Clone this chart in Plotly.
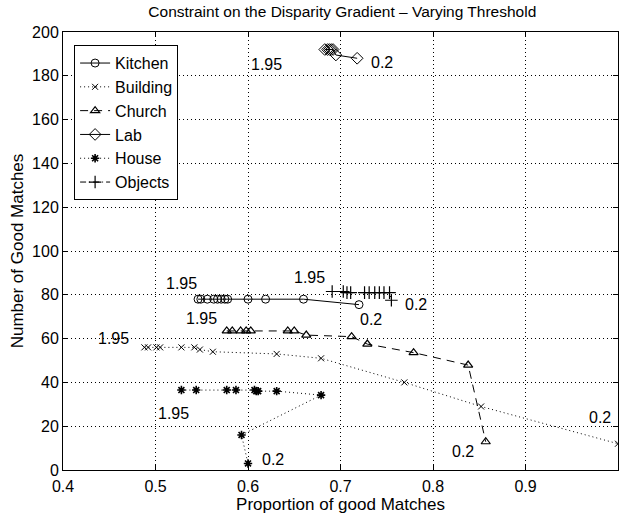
import plotly.graph_objects as go

# ---- data ----
kitchen_x = [0.546, 0.549, 0.556, 0.563, 0.567, 0.571, 0.575, 0.578, 0.600, 0.619, 0.660, 0.720]
kitchen_y = [78, 78, 78, 78, 78, 78, 78, 78, 78, 78, 78, 75.5]

building_x = [0.488, 0.492, 0.501, 0.505, 0.528, 0.542, 0.548, 0.562, 0.631, 0.679, 0.769, 0.852, 1.0]
building_y = [56, 56, 56, 56, 56, 56, 55, 54, 53, 51, 40, 29, 12]

church_x = [0.577, 0.583, 0.592, 0.598, 0.603, 0.643, 0.650, 0.663, 0.712, 0.729, 0.779, 0.838, 0.857]
church_y = [63.5, 63.5, 63.5, 63.5, 63.5, 63.5, 63.5, 61.6, 60.9, 57.5, 53.6, 47.9, 12.9]

lab_x = [0.683, 0.686, 0.688, 0.690, 0.692, 0.695, 0.718]
lab_y = [192, 192, 192, 192, 192, 189.5, 188]

house_x = [0.528, 0.544, 0.577, 0.587, 0.607, 0.609, 0.611, 0.631, 0.679, 0.593, 0.600]
house_y = [36.5, 36.5, 36.5, 36.5, 36.5, 36, 36, 36, 34.2, 16, 3]

objects_x = [0.691, 0.703, 0.707, 0.711, 0.726, 0.731, 0.737, 0.742, 0.747, 0.753, 0.755]
objects_y = [81.5, 81.5, 81, 81, 81, 81, 81, 81, 81, 81, 77.5]

label_text = ["1.95", "0.2", "1.95", "0.2", "1.95", "0.2",
              "1.95", "0.2", "1.95", "0.2", "1.95", "0.2"]
label_x = [0.528, 0.733, 0.550, 0.832, 0.666, 0.782, 0.455, 0.981, 0.519, 0.627, 0.620, 0.745]
label_y = [85, 68.5, 69, 8.5, 88, 75.5, 60, 24, 26, 5, 185, 186]

x_ticks = [0.4, 0.5, 0.6, 0.7, 0.8, 0.9, 1.0]
x_tick_text = ["0.4", "0.5", "0.6", "0.7", "0.8", "0.9", "1"]
y_ticks = [0, 20, 40, 60, 80, 100, 120, 140, 160, 180, 200]

FONT = "Liberation Sans, Arial, Helvetica, sans-serif"
DOT = "1px,3px"

series = [
    ("Kitchen", kitchen_x, kitchen_y, "circle-open", 8, "solid", 1),
    ("Building", building_x, building_y, "x-thin-open", 6, DOT, 1),
    ("Church", church_x, church_y, "triangle-up-open", 8, "8px,6px", 1.2),
    ("Lab", lab_x, lab_y, "diamond-open", 9, "solid", 1),
    ("House", house_x, house_y, "asterisk-open", 7, DOT, 1.6),
    ("Objects", objects_x, objects_y, "cross-thin-open", 9, "6px,3px,1px,3px", 1.2),
]

fig = go.Figure()
for name, xs, ys, sym, sz, dash, mlw in series:
    fig.add_trace(go.Scatter(
        x=xs, y=ys, name=name, mode="lines+markers",
        line=dict(color="black", width=1, dash=dash),
        marker=dict(symbol=sym, size=sz, color="black", line=dict(color="black", width=mlw)),
        cliponaxis=False,
    ))

for t, x, y in zip(label_text, label_x, label_y):
    fig.add_annotation(x=x, y=y, text=t, showarrow=False,
                       font=dict(family=FONT, size=16, color="black"))

axis_common = dict(
    showline=True, linecolor="black", linewidth=1, mirror="ticks",
    ticks="inside", ticklen=5, tickcolor="black",
    showgrid=True, gridcolor="black", gridwidth=1, griddash=DOT,
    zeroline=False, tickfont=dict(family=FONT, size=16, color="black"),
)

fig.update_layout(
    width=619, height=518,
    margin=dict(l=63, r=1, t=32, b=48),
    paper_bgcolor="white", plot_bgcolor="white",
    title=dict(text="Constraint on the Disparity Gradient \u2013 Varying Threshold",
               x=0.553, xanchor="center", y=0.977, yanchor="middle",
               font=dict(family=FONT, size=15.5, color="black")),
    xaxis=dict(range=[0.4, 1.0], tickvals=x_ticks, ticktext=x_tick_text,
               ticklabelstandoff=2,
               title=dict(text="Proportion of good Matches", standoff=1,
                          font=dict(family=FONT, size=17, color="black")),
               **axis_common),
    yaxis=dict(range=[0, 200], tickvals=y_ticks,
               title=dict(text="Number of Good Matches", standoff=4,
                          font=dict(family=FONT, size=17, color="black")),
               **axis_common),
    legend=dict(x=0.02, y=0.97, xanchor="left", yanchor="top",
                bgcolor="white", bordercolor="black", borderwidth=1,
                font=dict(family=FONT, size=16, color="black"),
                itemwidth=30, tracegroupgap=0),
    showlegend=True,
)

fig.write_html("out.html")
